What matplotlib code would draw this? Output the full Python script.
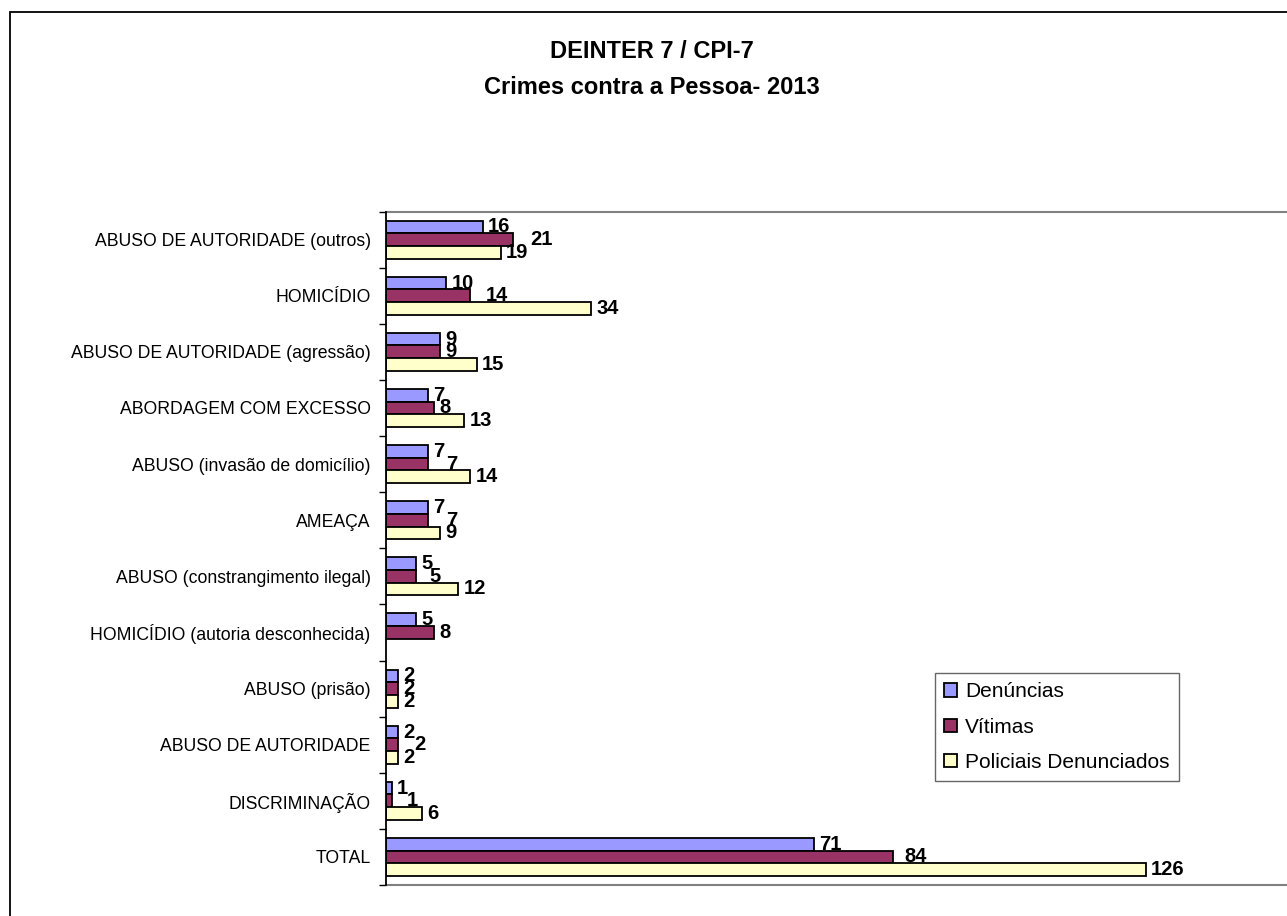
import matplotlib
matplotlib.use("Agg")
import matplotlib.pyplot as plt
from matplotlib.patches import Rectangle
import numpy as np

plt.rcParams['font.family'] = ['Liberation Sans', 'DejaVu Sans']

categories = [
    "ABUSO DE AUTORIDADE (outros)",
    "HOMICÍDIO",
    "ABUSO DE AUTORIDADE (agressão)",
    "ABORDAGEM COM EXCESSO",
    "ABUSO (invasão de domicílio)",
    "AMEAÇA",
    "ABUSO (constrangimento ilegal)",
    "HOMICÍDIO (autoria desconhecida)",
    "ABUSO (prisão)",
    "ABUSO DE AUTORIDADE",
    "DISCRIMINAÇÃO",
    "TOTAL",
]
denuncias = [16, 10, 9, 7, 7, 7, 5, 5, 2, 2, 1, 71]
vitimas = [21, 14, 9, 8, 7, 7, 5, 8, 2, 2, 1, 84]
policiais = [19, 34, 15, 13, 14, 9, 12, None, 2, 2, 6, 126]
series_names = ["Denúncias", "Vítimas", "Policiais Denunciados"]
colors = ["#9999FF", "#993366", "#FFFFCC"]

# extra horizontal shift (pixels) of the "Vítimas" labels, as placed in the original
vit_label_shift = [13, 10, 0, 0, 13, 13, 8, 0, 0, 11, 10, 7]

W, H = 1287, 916
fig = plt.figure(figsize=(W / 100, H / 100), dpi=100)

# outer chart frame
fig.patches.append(Rectangle((10 / W, -0.1), 1.2, 1 - 12 / H + 0.1,
                             transform=fig.transFigure, fill=False,
                             ec="black", lw=1.3))

ax = fig.add_axes([386 / W, 1 - 885 / H, 905 / W, (885 - 211.5) / H])

n = len(categories)
y = np.arange(n)
h = 0.226
all_series = [denuncias, vitimas, policiais]
offsets = [-h, 0.0, h]

px2pt = 72 / 100
for si, (vals, col, off) in enumerate(zip(all_series, colors, offsets)):
    ys = [yy + off for yy, v in zip(y, vals) if v is not None]
    ws = [v for v in vals if v is not None]
    ax.barh(ys, ws, height=h, color=col, edgecolor="black", linewidth=1.3,
            label=series_names[si], zorder=3)
    for i, v in enumerate(vals):
        if v is None:
            continue
        dx = 5
        if si == 1:
            dx += vit_label_shift[i]
        ax.annotate(str(v), xy=(v, y[i] + off), xytext=(dx * px2pt, 0),
                    textcoords="offset points", ha="left", va="center",
                    fontsize=14.5, fontweight="bold", color="black",
                    zorder=5, annotation_clip=False)

ax.set_xlim(0, 150)
ax.set_ylim(n - 0.5, -0.5)

ax.set_yticks(y)
ax.set_yticklabels(categories, fontsize=12.7)
ax.tick_params(axis="y", which="major", length=0, pad=11)
ax.set_yticks(np.arange(n + 1) - 0.5, minor=True)
ax.tick_params(axis="y", which="minor", length=5, width=1.0, color="black",
               direction="out")
ax.set_xticks([])

ax.spines["left"].set_color("black")
ax.spines["left"].set_linewidth(1.3)
ax.spines["left"].set_zorder(6)
for s in ("top", "bottom"):
    ax.spines[s].set_color("#808080")
    ax.spines[s].set_linewidth(1.5)
ax.spines["right"].set_visible(False)

fig.text(652 / W, 1 - 52 / H, "DEINTER 7 / CPI-7", ha="center", va="center",
         fontsize=17, fontweight="bold")
fig.text(652 / W, 1 - 87 / H, "Crimes contra a Pessoa- 2013", ha="center",
         va="center", fontsize=17, fontweight="bold")

leg = fig.legend(loc="upper left", bbox_to_anchor=(935 / W, 1 - 673 / H),
                 fontsize=15, frameon=True, fancybox=False,
                 handlelength=0.6, handleheight=0.6, handletextpad=0.4,
                 labelspacing=0.78, borderpad=0.45, borderaxespad=0)
leg.get_frame().set_edgecolor("#404040")
leg.get_frame().set_linewidth(1.0)

fig.savefig("out.png", dpi=100)
